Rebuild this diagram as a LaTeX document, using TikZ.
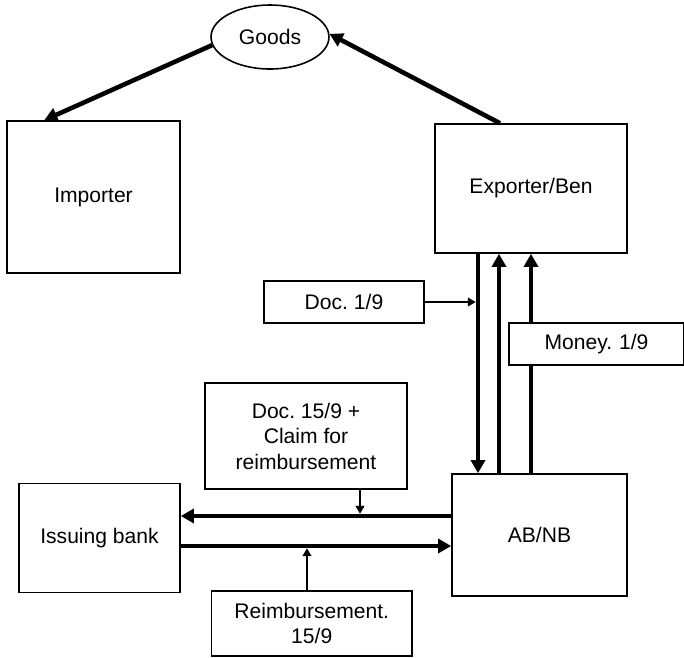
\documentclass[tikz,border=0pt]{standalone}
\usepackage{fontspec}
\setmainfont{Liberation Sans}
\usetikzlibrary{shapes.geometric,arrows.meta}
\begin{document}
\frenchspacing
\begin{tikzpicture}[x=0.02cm,y=-0.02cm,
  font=\fontsize{12}{14.5}\selectfont,
  box/.style={draw,line width=0.9pt,fill=white,inner sep=0pt,align=center},
  heavy/.style={line width=2.6pt,-{Triangle[length=7.5pt,width=8pt]}},
  light/.style={line width=1pt,-{Triangle[length=4.5pt,width=5pt]}}]
\useasboundingbox (0,0) rectangle (684,657);

% parties and goods
\node[box,ellipse,minimum width=2.36cm,minimum height=1.28cm] (goods) at (270,37) {Goods};
\node[box,minimum width=3.46cm,minimum height=3.04cm] (importer) at (93.5,197) {Importer};
\node[box,minimum width=3.84cm,minimum height=2.58cm] (exporter) at (531,188.5) {Exporter/Ben};
\node[box,minimum width=3.5cm,minimum height=2.44cm] (abnb) at (539.5,535) {AB/NB};
\node[box,minimum width=3.22cm,minimum height=2.18cm] (issuing) at (99.5,538) {Issuing bank};

% flow labels
\node[box,minimum width=3.2cm,minimum height=0.84cm] (doc1) at (344,302) {Doc. 1/9};
\node[box,minimum width=4.04cm,minimum height=2.12cm] (doc15) at (306,436)
  {Doc. 15/9 +\\Claim for\\reimbursement};
\node[box,minimum width=4.01cm,minimum height=1.3cm] (reimb) at (311.75,623.5)
  {Reimbursement.\\15/9};

% guide positions of the parallel flows
\coordinate (v1) at (478,0);
\coordinate (v2) at (499,0);
\coordinate (v3) at (531,0);
\coordinate (h1) at (0,516);
\coordinate (h2) at (0,546);
\coordinate (c1) at (360,0);
\coordinate (c2) at (307,0);

% goods movement
\draw[heavy] (goods.188) -- ([xshift=0.76cm]importer.north west);
\draw[heavy] ([xshift=-0.62cm]exporter.north) -- (goods.3);

% documents and money between exporter and nominated bank
\draw[heavy] (exporter.south -| v1) -- (abnb.north -| v1);
\draw[heavy] (abnb.north -| v2) -- (exporter.south -| v2);
\draw[heavy] (abnb.north -| v3) -- (exporter.south -| v3);
\draw[light,shorten >=1.3pt] (doc1.east) -- (doc1.east -| v1);

% nominated bank and issuing bank
\draw[heavy] (abnb.west |- h1) -- (issuing.east |- h1);
\draw[heavy] (issuing.east |- h2) -- (abnb.west |- h2);
\draw[light,shorten >=1.3pt] (doc15.south -| c1) -- (h1 -| c1);
\draw[light,shorten >=1.3pt] (reimb.north -| c2) -- (h2 -| c2);

% money label sits over the payment line
\node[box,minimum width=3.5cm,minimum height=0.84cm,text width=3.4cm] (money) at (596.5,344) {Money. 1/9};
\end{tikzpicture}
\end{document}
